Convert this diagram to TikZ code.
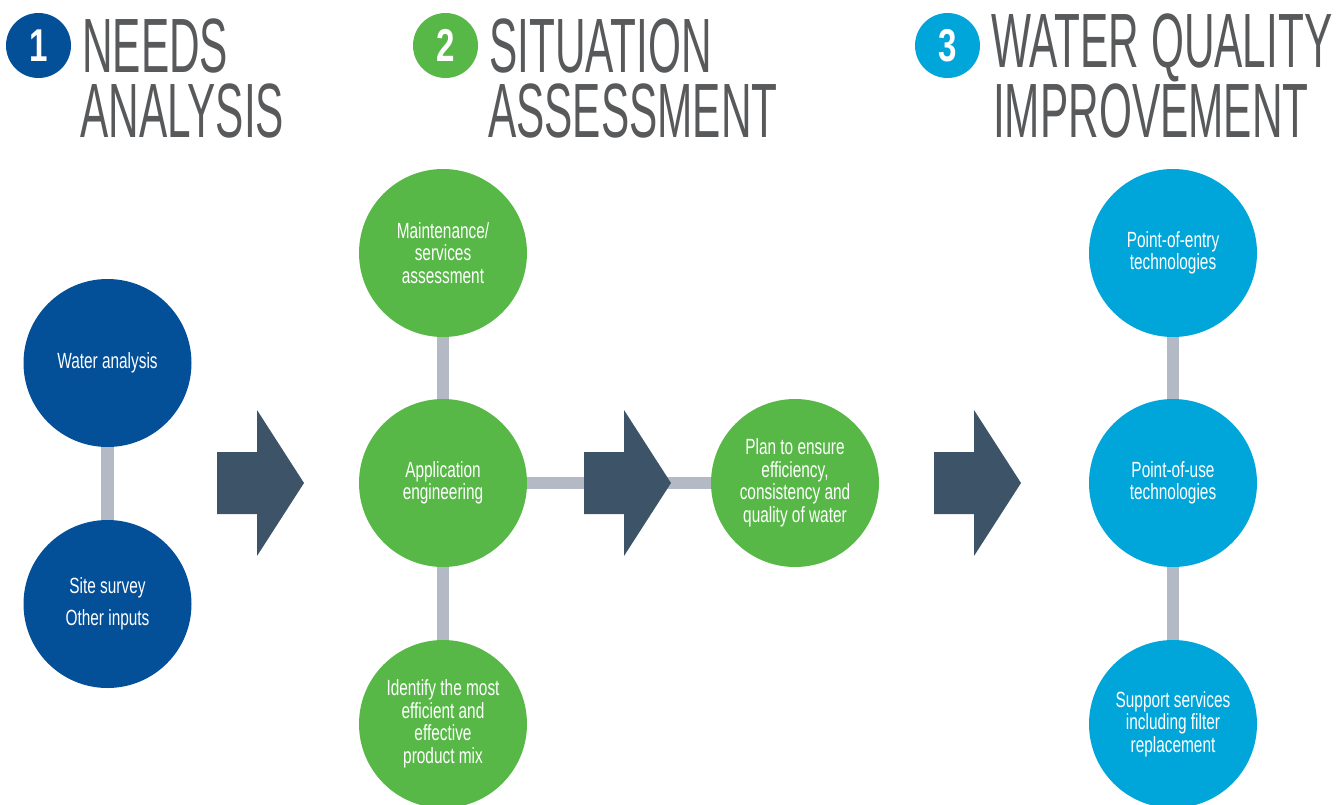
\documentclass[tikz,border=0pt]{standalone}
\usepackage{fontspec}
\setmainfont{Liberation Sans}
\newfontfamily\circfont[FakeStretch=0.70]{Liberation Sans}
\newfontfamily\titlefont[FakeStretch=0.55]{Liberation Sans}
\newfontfamily\numfont[FakeStretch=0.72]{Liberation Sans}
\definecolor{navy}{HTML}{034F98}
\definecolor{grn}{HTML}{57B847}
\definecolor{sky}{HTML}{00A6DA}
\definecolor{arrowc}{HTML}{3C5368}
\definecolor{connc}{HTML}{B3BAC6}
\definecolor{titlec}{HTML}{58595B}
\newcommand\bigarrow[1]{\fill[arrowc] (#1,452) -- ++(40,0) -- ++(0,-42) -- ++(47,73) -- ++(-47,73) -- ++(0,-42) -- ++(-40,0) -- cycle;}
\tikzset{
  bubble/.style={circle, minimum size=168pt, inner sep=0pt, text=white, align=center,
     font=\circfont\fontsize{22}{22.5}\selectfont},
  badge/.style={circle, minimum size=65pt, inner sep=0pt, text=white,
     font=\numfont\bfseries\fontsize{46}{46}\selectfont},
  ttl/.style={anchor=base west, inner sep=0pt, text=titlec, align=left,
     font=\titlefont\fontsize{77}{65}\selectfont},
  conn/.style={draw=connc, line width=12.5pt},
}
\begin{document}
\begin{tikzpicture}[x=1pt,y=-1pt]
\useasboundingbox (0,0) rectangle (1342,804);
% headers
\node[badge, fill=navy] (b1) at (38.5,45.5) {1};
\node[ttl] (t1) at (80,137) {\hspace*{2pt}NEEDS\\ANALYSIS};
\node[badge, fill=grn] (b2) at (445.5,45.5) {2};
\node[ttl] (t2) at (488,137) {\hspace*{1pt}SITUATION\\ASSESSMENT};
\node[badge, fill=sky] (b3) at (947.5,45.5) {3};
\node[ttl] (t3) at (991,137) {WATER QUALITY\\\hspace*{2pt}IMPROVEMENT};
% circles
\node[bubble, fill=navy] (wa) at (107.5,363) {Water analysis};
\node[bubble, fill=navy] (ss) at (107.5,604) {Site survey\\[10pt]Other inputs};
\node[bubble, fill=grn] (ma) at (443,253) {Maintenance/\\services\\assessment};
\node[bubble, fill=grn] (ae) at (443,483) {Application\\engineering};
\node[bubble, fill=grn] (id) at (443,724) {Identify the most\\efficient and\\effective\\product mix};
\node[bubble, fill=grn] (pl) at (795,483) {Plan to ensure\\efficiency,\\consistency and\\quality of water};
\node[bubble, fill=sky] (pe) at (1173,253) {Point-of-entry\\technologies};
\node[bubble, fill=sky] (pu) at (1173,483) {Point-of-use\\technologies};
\node[bubble, fill=sky] (su) at (1173,724) {Support services\\including filter\\replacement};
% connectors
\draw[conn] (wa) -- (ss);
\draw[conn] (ma) -- (ae);
\draw[conn] (ae) -- (id);
\draw[conn] (ae) -- (pl);
\draw[conn] (pe) -- (pu);
\draw[conn] (pu) -- (su);
% big arrows
\bigarrow{217}
\bigarrow{584}
\bigarrow{934}
\end{tikzpicture}
\end{document}
